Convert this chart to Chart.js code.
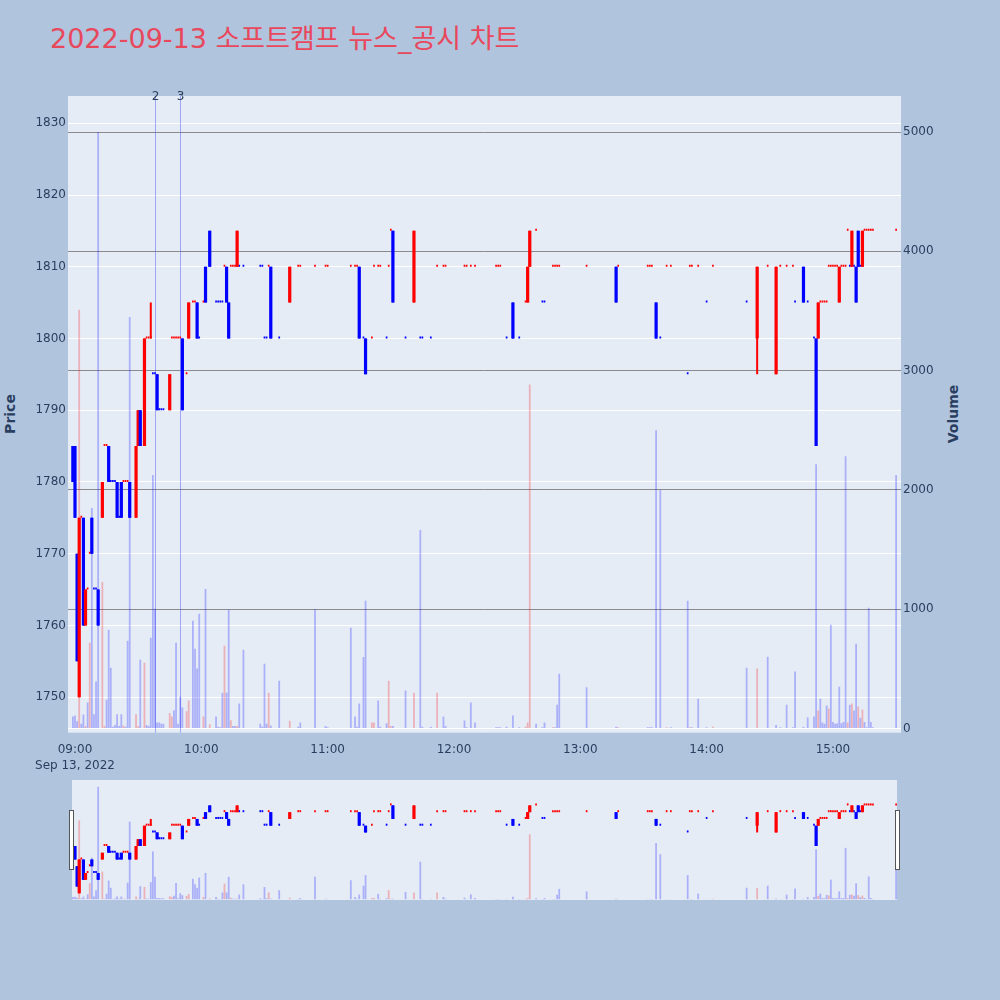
<!DOCTYPE html>
<html>
<head>
<meta charset="utf-8">
<script src="https://cdn.jsdelivr.net/npm/chart.js@4.4.0/dist/chart.umd.min.js"></script>
<style>
  html, body { margin: 0; padding: 0; width: 1000px; height: 1000px; overflow: hidden; background: #b0c4de; }
  body { font-family: "DejaVu Sans", "Noto Sans CJK KR", sans-serif; position: relative; }
  #title { position: absolute; left: 50px; top: 23px; font-size: 27px; line-height: 32px; color: #e8485c; white-space: nowrap; }
  .axis-title { position: absolute; font-size: 14px; font-weight: bold; color: #2a3f5f; white-space: nowrap;
                transform: translate(-50%, -50%) rotate(-90deg); }
  #main { position: absolute; left: 0; top: 0; }
  #nav { position: absolute; left: 0; top: 775px; }
  .grip { position: absolute; top: 810px; width: 3px; height: 58px; background: #fff; border: 1px solid #555; }
</style>
</head>
<body>
<div id="title">2022-09-13 소프트캠프 뉴스_공시 차트</div>
<div class="axis-title" style="left:10px; top:414px;">Price</div>
<div class="axis-title" style="left:953px; top:414px;">Volume</div>
<canvas id="main" width="1000" height="775"></canvas>
<canvas id="nav" width="1000" height="130"></canvas>
<div class="grip" style="left:69px;"></div>
<div class="grip" style="left:895px;"></div>

<script>
// One-minute bars for the session (only minutes with trades)
const times = [
  '08:59','09:00','09:01','09:02','09:03','09:04','09:05','09:06','09:07','09:08',
  '09:09','09:10','09:11','09:13','09:14','09:15','09:16','09:17','09:18','09:19',
  '09:20','09:21','09:22','09:23','09:24','09:25','09:26','09:29','09:30','09:31',
  '09:33','09:34','09:35','09:36','09:37','09:38','09:39','09:40','09:41','09:42',
  '09:45','09:46','09:47','09:48','09:49','09:50','09:51','09:53','09:54','09:56',
  '09:57','09:58','09:59','10:01','10:02','10:04','10:07','10:08','10:09','10:10',
  '10:11','10:12','10:13','10:14','10:15','10:16','10:17','10:18','10:20','10:28',
  '10:29','10:30','10:31','10:32','10:33','10:37','10:42','10:46','10:47','10:54',
  '10:59','11:00','11:11','11:13','11:14','11:15','11:17','11:18','11:21','11:22',
  '11:24','11:25','11:28','11:29','11:30','11:31','11:37','11:41','11:44','11:45',
  '11:49','11:52','11:55','11:56','12:05','12:06','12:08','12:10','12:20','12:21',
  '12:22','12:25','12:28','12:31','12:34','12:35','12:36','12:39','12:42','12:43',
  '12:47','12:48','12:49','12:50','13:03','13:17','13:18','13:32','13:33','13:34',
  '13:36','13:38','13:41','13:43','13:51','13:52','13:53','13:56','14:00','14:03',
  '14:19','14:24','14:29','14:33','14:35','14:38','14:41','14:42','14:46','14:48',
  '14:51','14:52','14:53','14:54','14:55','14:56','14:57','14:58','14:59','15:00',
  '15:01','15:02','15:03','15:04','15:05','15:06','15:07','15:08','15:09','15:10',
  '15:11','15:12','15:13','15:14','15:15','15:16','15:17','15:18','15:19','15:30'
];

const opens = [
  1785,1785,1770,1750,1775,1775,1760,1765,1770,1775,
  1765,1765,1765,1775,1785,1785,1785,1780,1780,1780,
  1780,1775,1780,1780,1780,1780,1780,1775,1785,1790,
  1785,1800,1800,1800,1795,1795,1795,1790,1790,1790,
  1790,1800,1800,1800,1800,1800,1800,1795,1800,1805,
  1805,1805,1800,1805,1810,1815,1805,1805,1805,1805,
  1810,1810,1805,1810,1810,1810,1810,1810,1810,1810,
  1810,1800,1800,1810,1810,1800,1805,1810,1810,1810,
  1810,1810,1810,1810,1810,1810,1800,1800,1800,1810,
  1810,1810,1800,1810,1815,1815,1800,1805,1800,1800,
  1800,1810,1810,1810,1810,1810,1810,1810,1810,1810,
  1810,1800,1805,1800,1805,1805,1810,1815,1805,1805,
  1810,1810,1810,1810,1810,1810,1810,1810,1810,1810,
  1805,1800,1810,1810,1795,1810,1810,1810,1805,1810,
  1805,1800,1810,1795,1810,1810,1810,1805,1810,1805,
  1800,1800,1800,1805,1805,1805,1805,1810,1810,1810,
  1810,1810,1805,1810,1810,1810,1815,1810,1810,1810,
  1810,1815,1810,1810,1815,1815,1815,1815,1815,1815
];

const highs = [
  1785,1785,1770,1775,1775,1775,1765,1765,1770,1775,
  1765,1765,1765,1780,1785,1785,1785,1780,1780,1780,
  1780,1775,1780,1780,1780,1780,1780,1785,1790,1790,
  1800,1800,1800,1805,1795,1795,1795,1790,1790,1790,
  1795,1800,1800,1800,1800,1800,1800,1795,1805,1805,
  1805,1805,1800,1805,1810,1815,1805,1805,1805,1805,
  1810,1810,1805,1810,1810,1810,1815,1810,1810,1810,
  1810,1800,1800,1810,1810,1800,1810,1810,1810,1810,
  1810,1810,1810,1810,1810,1810,1800,1800,1800,1810,
  1810,1810,1800,1810,1815,1815,1800,1815,1800,1800,
  1800,1810,1810,1810,1810,1810,1810,1810,1810,1810,
  1810,1800,1805,1800,1805,1810,1815,1815,1805,1805,
  1810,1810,1810,1810,1810,1810,1810,1810,1810,1810,
  1805,1800,1810,1810,1795,1810,1810,1810,1805,1810,
  1805,1810,1810,1810,1810,1810,1810,1805,1810,1805,
  1800,1800,1805,1805,1805,1805,1805,1810,1810,1810,
  1810,1810,1810,1810,1810,1810,1815,1810,1815,1810,
  1810,1815,1810,1815,1815,1815,1815,1815,1815,1815
];

const lows = [
  1780,1775,1755,1750,1775,1760,1760,1765,1770,1770,
  1765,1765,1760,1775,1785,1785,1780,1780,1780,1780,
  1775,1775,1775,1780,1780,1780,1775,1775,1785,1785,
  1785,1800,1800,1800,1795,1795,1790,1790,1790,1790,
  1790,1800,1800,1800,1800,1800,1790,1795,1800,1805,
  1805,1800,1800,1805,1805,1810,1805,1805,1805,1805,
  1810,1805,1800,1810,1810,1810,1810,1810,1810,1810,
  1810,1800,1800,1810,1800,1800,1805,1810,1810,1810,
  1810,1810,1810,1810,1810,1800,1800,1795,1800,1810,
  1810,1810,1800,1810,1815,1805,1800,1805,1800,1800,
  1800,1810,1810,1810,1810,1810,1810,1810,1810,1810,
  1810,1800,1800,1800,1805,1805,1810,1815,1805,1805,
  1810,1810,1810,1810,1810,1805,1810,1810,1810,1810,
  1800,1800,1810,1810,1795,1810,1810,1810,1805,1810,
  1805,1795,1810,1795,1810,1810,1810,1805,1805,1805,
  1800,1785,1800,1805,1805,1805,1805,1810,1810,1810,
  1810,1810,1805,1810,1810,1810,1815,1810,1810,1810,
  1805,1810,1810,1810,1815,1815,1815,1815,1815,1815
];

const closes = [
  1780,1775,1755,1775,1775,1760,1765,1765,1770,1770,
  1765,1765,1760,1780,1785,1785,1780,1780,1780,1780,
  1775,1775,1775,1780,1780,1780,1775,1785,1790,1785,
  1800,1800,1800,1800,1795,1795,1790,1790,1790,1790,
  1795,1800,1800,1800,1800,1800,1790,1795,1805,1805,
  1805,1800,1800,1805,1805,1810,1805,1805,1805,1805,
  1810,1805,1800,1810,1810,1810,1815,1810,1810,1810,
  1810,1800,1800,1810,1800,1800,1810,1810,1810,1810,
  1810,1810,1810,1810,1810,1800,1800,1795,1800,1810,
  1810,1810,1800,1810,1815,1805,1800,1815,1800,1800,
  1800,1810,1810,1810,1810,1810,1810,1810,1810,1810,
  1810,1800,1800,1800,1805,1810,1815,1815,1805,1805,
  1810,1810,1810,1810,1810,1805,1810,1810,1810,1810,
  1800,1800,1810,1810,1795,1810,1810,1810,1805,1810,
  1805,1810,1810,1810,1810,1810,1810,1805,1805,1805,
  1800,1785,1805,1805,1805,1805,1805,1810,1810,1810,
  1810,1810,1810,1810,1810,1810,1815,1810,1815,1810,
  1805,1810,1810,1815,1815,1815,1815,1815,1815,1815
];

const volumes = [
  100,110,60,3510,40,117,20,217,719,1848,
  120,393,5000,1229,20,242,828,510,15,30,
  120,20,120,25,15,736,3450,120,20,577,
  552,30,20,761,2124,1003,50,50,40,40,
  130,100,153,719,40,267,176,145,234,903,
  669,502,961,100,1170,35,100,15,10,300,
  694,300,995,70,20,20,20,210,660,40,
  15,543,40,300,25,400,65,15,50,1000,
  20,10,844,100,15,209,600,1070,50,50,
  234,15,45,401,20,20,318,300,1664,15,
  15,300,100,20,67,10,217,50,10,10,
  10,15,108,10,15,50,2883,40,10,50,
  10,10,200,458,345,15,10,10,10,10,
  2500,2000,10,10,1070,10,10,250,10,15,
  510,502,602,30,10,200,10,477,15,92,
  100,2216,150,250,50,40,192,167,870,55,
  40,45,350,45,55,2283,50,200,209,150,
  711,184,90,160,55,10,1012,55,10,2124
];

// News / disclosure markers
const newsTimes = ['09:38', '09:50'];
const newsLabels = ['2', '3'];

// Axis ticks
const sessionDate = 'Sep 13, 2022';
const hourTicks = ['09:00', '10:00', '11:00', '12:00', '13:00', '14:00', '15:00'];
const priceTicks = [1750, 1760, 1770, 1780, 1790, 1800, 1810, 1820, 1830];
const volumeTicks = [0, 1000, 2000, 3000, 4000, 5000];

// ---------------------------------------------------------------------------
const UP = '#ff0000', DOWN = '#0000ff';
const UP_VOL = 'rgba(255, 0, 0, 0.25)', DOWN_VOL = 'rgba(0, 0, 255, 0.25)';
const TEXT = '#2a3f5f';
const FONT = '"DejaVu Sans", sans-serif';

const toMinutes = (hhmm) => { const [h, m] = hhmm.split(':').map(Number); return h * 60 + m - 540; };
const toLabel = (min) => {
  const t = Math.round(min) + 540;
  return String(Math.floor(t / 60)).padStart(2, '0') + ':' + String(t % 60).padStart(2, '0');
};
const xs = times.map(toMinutes);

// candle direction: close vs open, a doji follows the previous close, then the previous candle
const rising = [];
closes.forEach((c, i) => {
  const o = opens[i];
  const prev = i > 0 ? closes[i - 1] : o;
  let up;
  if (c > o) up = true;
  else if (c < o) up = false;
  else if (c > prev) up = true;
  else if (c < prev) up = false;
  else up = i > 0 ? rising[i - 1] : false;
  rising.push(up);
});
// volume colour: close above the previous close
const volRising = closes.map((c, i) => i > 0 && c > closes[i - 1]);

const X_MIN = -3.32, X_MAX = 392.32;
const P_MIN = 1745.05, P_MAX = 1833.8;
const V_MIN = -35.2, V_MAX = 5301.8;

function candleDatasets() {
  const bodyIdx = [], flatIdx = [];
  xs.forEach((x, i) => (opens[i] === closes[i] ? flatIdx : bodyIdx).push(i));
  return [
    {
      label: 'bodies', yAxisID: 'y', grouped: false, order: 1, inflateAmount: 0,
      barThickness: 3.2,
      data: bodyIdx.map(i => ({ x: xs[i], y: [opens[i], closes[i]] })),
      backgroundColor: bodyIdx.map(i => rising[i] ? UP : DOWN)
    },
    {
      label: 'doji', yAxisID: 'y', grouped: false, order: 1, inflateAmount: 0,
      barThickness: 1.7, minBarLength: 2,
      data: flatIdx.map(i => ({ x: xs[i], y: [opens[i], closes[i]] })),
      backgroundColor: flatIdx.map(i => rising[i] ? UP : DOWN)
    },
    {
      label: 'wicks', yAxisID: 'y', grouped: false, order: 2, inflateAmount: 0,
      barThickness: 2,
      data: xs.map((x, i) => ({ x, y: [lows[i], highs[i]] })),
      backgroundColor: xs.map((x, i) => rising[i] ? UP : DOWN)
    },
    {
      label: 'Volume', yAxisID: 'yv', grouped: false, order: 3, inflateAmount: 0,
      barThickness: 1.8,
      data: xs.map((x, i) => ({ x, y: volumes[i] })),
      backgroundColor: xs.map((x, i) => volRising[i] ? UP_VOL : DOWN_VOL)
    }
  ];
}

const plotBackground = {
  id: 'plotBackground',
  beforeDraw(chart, args, opts) {
    const { ctx, chartArea: a } = chart;
    const inset = opts.inset || 0;
    ctx.save();
    ctx.fillStyle = opts.color;
    ctx.fillRect(a.left + inset, a.top, a.width - 2 * inset, a.height);
    ctx.restore();
  }
};

const newsMarkers = {
  id: 'newsMarkers',
  beforeDatasetsDraw(chart) {
    const { ctx, chartArea: a, scales } = chart;
    ctx.save();
    ctx.strokeStyle = 'rgba(70, 80, 240, 0.45)';
    ctx.lineWidth = 1;
    newsTimes.forEach(t => {
      const px = Math.round(scales.x.getPixelForValue(toMinutes(t))) + 0.5;
      ctx.beginPath();
      ctx.moveTo(px, a.top);
      ctx.lineTo(px, a.bottom);
      ctx.stroke();
    });
    ctx.restore();
  },
  afterDraw(chart) {
    const { ctx, chartArea: a, scales } = chart;
    ctx.save();
    ctx.fillStyle = TEXT;
    ctx.font = '12px ' + FONT;
    ctx.textAlign = 'center';
    ctx.textBaseline = 'middle';
    newsTimes.forEach((t, i) => {
      const px = Math.round(scales.x.getPixelForValue(toMinutes(t))) + 0.5;
      ctx.fillText(newsLabels[i], px, a.top + 1);
    });
    ctx.restore();
  }
};

const tickFont = { family: FONT, size: 12, lineHeight: 1.35 };
const plain = (v) => String(v);

new Chart(document.getElementById('main'), {
  type: 'bar',
  data: { datasets: candleDatasets() },
  plugins: [plotBackground, newsMarkers],
  options: {
    responsive: false,
    animation: false,
    events: [],
    layout: { padding: { top: 96, left: 0, right: 0, bottom: 0 } },
    plugins: {
      legend: { display: false },
      tooltip: { enabled: false },
      plotBackground: { color: '#e5ecf6' }
    },
    scales: {
      x: {
        type: 'linear', min: X_MIN, max: X_MAX, offset: false,
        grid: { display: false }, border: { display: false },
        afterBuildTicks(scale) { scale.ticks = hourTicks.map(h => ({ value: toMinutes(h) })); },
        ticks: {
          autoSkip: false, maxRotation: 0, padding: 1, color: TEXT, font: tickFont,
          callback: (v) => v === 0 ? [toLabel(v), sessionDate] : toLabel(v)
        },
        afterFit(scale) { scale.height = 775 - 732.7; }
      },
      y: {
        position: 'left', min: P_MIN, max: P_MAX,
        grid: { color: '#ffffff', lineWidth: 1, drawTicks: false }, border: { display: false },
        afterBuildTicks(scale) { scale.ticks = priceTicks.map(value => ({ value })); },
        ticks: { autoSkip: false, padding: 2, color: TEXT, font: tickFont, callback: plain },
        afterFit(scale) { scale.width = 68; }
      },
      yv: {
        position: 'right', min: V_MIN, max: V_MAX,
        grid: {
          drawTicks: false, lineWidth: 1,
          color: (c) => (c.tick && c.tick.value === 0) ? '#ffffff' : '#8a8a8f'
        },
        border: { display: false },
        afterBuildTicks(scale) { scale.ticks = volumeTicks.map(value => ({ value })); },
        ticks: { autoSkip: false, padding: 2, color: TEXT, font: tickFont, callback: plain },
        afterFit(scale) { scale.width = 99; }
      }
    }
  }
});

// range-slider overview underneath
new Chart(document.getElementById('nav'), {
  type: 'bar',
  data: { datasets: candleDatasets() },
  plugins: [plotBackground],
  options: {
    responsive: false,
    animation: false,
    events: [],
    layout: { padding: { top: 5, bottom: 5, left: 68, right: 99 } },
    plugins: {
      legend: { display: false },
      tooltip: { enabled: false },
      plotBackground: { color: '#e5ecf6', inset: 4 }
    },
    scales: {
      x: { type: 'linear', display: false, min: X_MIN, max: X_MAX, offset: false },
      y: { display: false, min: P_MIN, max: P_MAX },
      yv: { display: false, position: 'right', min: V_MIN, max: V_MAX }
    }
  }
});
</script>
</body>
</html>
